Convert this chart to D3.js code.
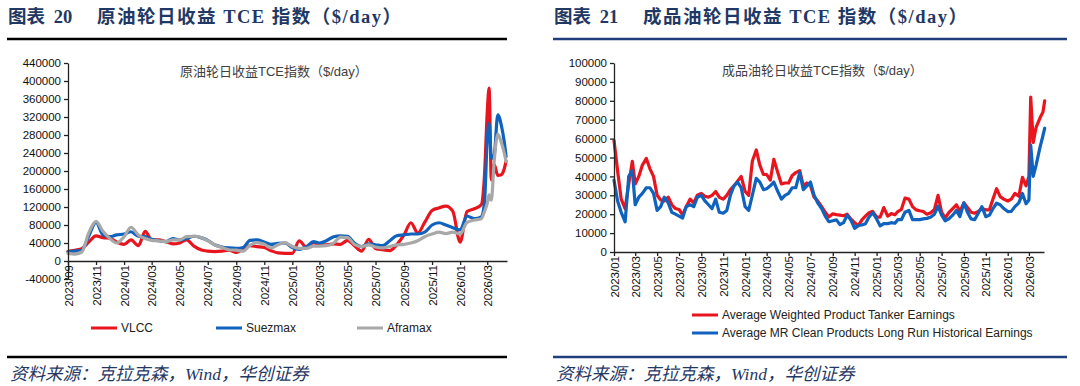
<!DOCTYPE html>
<html>
<head>
<meta charset="utf-8">
<script src="https://cdn.jsdelivr.net/npm/d3@7"></script>
<style>
  body { margin: 0; background: #fff; }
  svg { display: block; font-family: "Liberation Sans", Arial, "Noto Sans CJK SC", sans-serif; }
  .axis text { font-size: 11.5px; fill: #111; font-family: "Liberation Sans", Arial, sans-serif; }
  .axis path, .axis line { stroke: #222; stroke-width: 1.3; }
</style>
</head>
<body>
<svg id="chart" width="1080" height="386"></svg>
<script>
// ---- 图表20 原油轮 (semi-monthly reads, denser around the 2026/03 spike)
const crudeDates = [
  "2023-09-01","2023-09-16","2023-10-01","2023-10-16","2023-11-01","2023-11-16","2023-12-01","2023-12-16",
  "2024-01-01","2024-01-16","2024-02-01","2024-02-16","2024-03-01","2024-03-16","2024-04-01","2024-04-16",
  "2024-05-01","2024-05-16","2024-06-01","2024-06-16","2024-07-01","2024-07-16","2024-08-01","2024-08-16",
  "2024-09-01","2024-09-16","2024-10-01","2024-10-16","2024-11-01","2024-11-16","2024-12-01","2024-12-16",
  "2025-01-01","2025-01-16","2025-02-01","2025-02-16","2025-03-01","2025-03-16","2025-04-01","2025-04-16",
  "2025-05-01","2025-05-16","2025-06-01","2025-06-16","2025-07-01","2025-07-16","2025-08-01","2025-08-16",
  "2025-09-01","2025-09-16","2025-10-01","2025-10-16","2025-11-01","2025-11-16","2025-12-01","2025-12-16",
  "2026-01-01","2026-01-16","2026-02-01","2026-02-16",
  "2026-02-23","2026-03-01","2026-03-05","2026-03-10","2026-03-16","2026-03-24","2026-04-01","2026-04-07","2026-04-11"
];
const vlcc = [
  21000,24000,27000,42000,56000,52000,51000,42000,
  37000,47000,34000,66000,47000,47000,43000,38000,40000,47000,33000,25000,22000,21000,22000,24000,19000,27000,34000,32000,30000,23000,18000,17000,
  17000,45000,30000,41000,36000,36000,38000,37000,46000,34000,22000,48000,28000,25000,23000,36000,58000,85000,62000,86000,112000,118000,122000,111000,
  42000,110000,116000,125000,
  190000,330000,384000,180000,215000,190000,192000,205000,222000
];
const suezmax = [
  21000,22000,24000,55000,86000,58000,54000,58000,
  60000,65000,55000,54000,48000,45000,43000,50000,47000,50000,55000,52000,46000,36000,31000,29000,28000,30000,46000,47000,42000,37000,39000,40000,
  30000,26000,32000,43000,40000,45000,54000,56000,55000,40000,32000,38000,36000,34000,45000,56000,58000,60000,60000,64000,80000,85000,80000,74000,
  69000,100000,94000,98000,
  130000,270000,306000,228000,235000,325000,300000,265000,232000
];
const aframax = [
  17000,15500,20000,62000,88000,66000,50000,40000,
  54000,75000,58000,50000,46000,45000,43000,47000,47000,54000,55000,52000,45000,36000,30000,25000,24000,22000,35000,41000,37000,29000,36000,41000,
  32000,28000,28000,33000,33000,34000,40000,53000,52000,37000,32000,36000,31000,29000,32000,36000,37000,40000,45000,54000,60000,64000,61000,64000,
  60000,86000,91000,94000,
  110000,128000,147000,135000,220000,282000,262000,240000,221000
];
const crudeYTicks = [-40000,0,40000,80000,120000,160000,200000,240000,280000,320000,360000,400000,440000];
const crudeXTicks = ["2023-09-01","2023-11-01","2024-01-01","2024-03-01","2024-05-01","2024-07-01","2024-09-01","2024-11-01",
  "2025-01-01","2025-03-01","2025-05-01","2025-07-01","2025-09-01","2025-11-01","2026-01-01","2026-03-01"];
const crudeSeries = ["VLCC","Suezmax","Aframax"];

// ---- 图表21 成品油轮 (reads on the 1st, 11th, 21st)
const productDates = [
  "2023-01-01","2023-01-11","2023-01-21","2023-02-01","2023-02-11","2023-02-21","2023-03-01","2023-03-11","2023-03-21",
  "2023-04-01","2023-04-11","2023-04-21","2023-05-01","2023-05-11","2023-05-21","2023-06-01","2023-06-11","2023-06-21",
  "2023-07-01","2023-07-11","2023-07-21","2023-08-01","2023-08-11","2023-08-21","2023-09-01","2023-09-11","2023-09-21",
  "2023-10-01","2023-10-11","2023-10-21","2023-11-01","2023-11-11","2023-11-21","2023-12-01","2023-12-11","2023-12-21",
  "2024-01-01","2024-01-11","2024-01-21","2024-02-01","2024-02-11","2024-02-21","2024-03-01","2024-03-11","2024-03-21",
  "2024-04-01","2024-04-11","2024-04-21","2024-05-01","2024-05-11","2024-05-21","2024-06-01","2024-06-11","2024-06-21",
  "2024-07-01","2024-07-11","2024-07-21","2024-08-01","2024-08-11","2024-08-21","2024-09-01","2024-09-11","2024-09-21",
  "2024-10-01","2024-10-11","2024-10-21","2024-11-01","2024-11-11","2024-11-21","2024-12-01","2024-12-11","2024-12-21",
  "2025-01-01","2025-01-11","2025-01-21","2025-02-01","2025-02-11","2025-02-21","2025-03-01","2025-03-11","2025-03-21",
  "2025-04-01","2025-04-11","2025-04-21","2025-05-01","2025-05-11","2025-05-21","2025-06-01","2025-06-11","2025-06-21",
  "2025-07-01","2025-07-11","2025-07-21","2025-08-01","2025-08-11","2025-08-21","2025-09-01","2025-09-11","2025-09-21",
  "2025-10-01","2025-10-11","2025-10-21","2025-11-01","2025-11-11","2025-11-21","2025-12-01","2025-12-11","2025-12-21",
  "2026-01-01","2026-01-11","2026-01-21","2026-02-01","2026-02-11","2026-02-21",
  "2026-03-01","2026-03-06","2026-03-13","2026-03-21","2026-04-01","2026-04-09","2026-04-14"
];
const weightedProduct = [
  59000,43000,28000,23000,36000,48000,36000,40000,46000,49500,44000,40000,30000,27500,27000,29000,25000,23000,
  22500,19500,24000,28000,26000,30000,31000,29500,29000,30000,32000,29000,28000,30000,33000,35000,37500,40000,
  32000,30000,48000,54000,46000,41000,41000,38000,49000,42000,36000,36500,36500,40500,42000,43000,35000,36500,
  35000,29000,27000,24000,21000,18500,20200,19800,19500,19200,20000,17500,15500,13800,17000,19000,20800,21500,
  18500,18500,23500,19000,20300,19700,21400,22500,28500,28000,24000,22300,21800,21400,20000,20800,22500,30000,
  21000,18000,20800,23000,25000,21500,26000,23500,21000,20500,21400,23000,22300,22300,28000,33500,29300,28000,
  27000,28000,31000,29500,39500,35000,
  40000,82000,58000,66000,71000,74000,80000
];
const mrClean = [
  38000,27000,21000,16000,40000,43000,25000,29000,31000,34000,34000,31000,22000,24000,29000,26000,21000,20000,
  19000,18000,24000,25000,24000,29000,30000,27000,25000,23000,28000,21000,20500,22000,30000,35000,37000,34000,
  24000,22000,30000,39000,37000,33000,33500,35000,37000,32000,28000,30000,31000,34000,34000,42000,33000,35000,
  37000,30000,26000,23000,19000,16000,16500,17000,14500,15500,19500,17000,12500,14000,14300,15000,18500,20800,
  17500,13800,15000,15000,15500,15200,17100,17100,21000,22000,17100,17100,17100,17500,17800,18500,20000,24200,
  19500,16500,17500,19500,22000,18700,26000,21000,17500,17100,20500,24000,18700,19500,23000,25800,25000,23000,
  21400,21500,24000,26000,31000,25500,
  27500,56600,40000,46000,55500,61500,65500
];
const productYTicks = [0,10000,20000,30000,40000,50000,60000,70000,80000,90000,100000];
const productXTicks = ["2023-01-01","2023-03-01","2023-05-01","2023-07-01","2023-09-01","2023-11-01","2024-01-01","2024-03-01",
  "2024-05-01","2024-07-01","2024-09-01","2024-11-01","2025-01-01","2025-03-01","2025-05-01","2025-07-01","2025-09-01",
  "2025-11-01","2026-01-01","2026-03-01"];
const productSeries = ["Average Weighted Product Tanker Earnings","Average MR Clean Products Long Run Historical Earnings"];

const RED = "#e8141e", BLUE = "#0f62bd", GREY = "#a8a8a8", NAVY = "#1f3864";
const parse = d3.timeParse("%Y-%m-%d");
const svg = d3.select("#chart");

// ---- Frame: title, rules, source
function drawFrame(x0, x1, ruleColor, num, title) {
    const t = svg.append("text")
        .attr("y", 23)
        .attr("fill", NAVY)
        .style("font-family", '"Liberation Serif", "Noto Sans CJK SC", serif')
        .style("font-weight", "bold")
        .style("font-size", "18.5px");
    t.append("tspan").attr("x", x0 + 1).style("word-spacing", "4px").text("图表 " + num);
    t.append("tspan").attr("x", x0 + 90).style("letter-spacing", "1.5px").text(title);

    svg.append("line").attr("x1", x0).attr("x2", x1).attr("y1", 39).attr("y2", 39)
        .attr("stroke", ruleColor).attr("stroke-width", 2.5);
    svg.append("line").attr("x1", x0).attr("x2", x1).attr("y1", 357).attr("y2", 357)
        .attr("stroke", ruleColor).attr("stroke-width", 2.5);

    svg.append("text")
        .attr("x", x0 + 3).attr("y", 380)
        .attr("fill", NAVY)
        .style("font-family", '"Liberation Serif", "Noto Sans CJK SC", serif')
        .style("font-style", "italic")
        .style("font-size", "17.5px")
        .text("资料来源：克拉克森，Wind，华创证券");
}

// ---- Axes
function drawAxes(x, y, yTicks, xTicks, xAxisY) {
    svg.append("g")
        .attr("class", "axis")
        .attr("transform", `translate(${x.range()[0]},0)`)
        .call(d3.axisLeft(y).tickValues(yTicks).tickFormat(d => String(d))
            .tickSize(4).tickSizeOuter(0).tickPadding(3));

    const gx = svg.append("g")
        .attr("class", "axis")
        .attr("transform", `translate(0,${xAxisY})`)
        .call(d3.axisBottom(x).tickValues(xTicks.map(parse))
            .tickFormat(d3.timeFormat("%Y/%m")).tickSize(4).tickSizeOuter(0));
    gx.selectAll(".tick text")
        .attr("transform", "rotate(-90)")
        .attr("text-anchor", "end")
        .attr("x", -4)
        .attr("y", 0)
        .attr("dy", "0.36em");
}

function drawSeries(x, y, dates, values, color, curve) {
    const pts = dates.map((d, i) => ({ date: parse(d), value: values[i] }));
    svg.append("path")
        .datum(pts)
        .attr("fill", "none")
        .attr("stroke", color)
        .attr("stroke-width", 3.2)
        .attr("stroke-linejoin", "round")
        .attr("stroke-linecap", "round")
        .attr("d", d3.line().x(p => x(p.date)).y(p => y(p.value)).curve(curve));
}

function legendItem(lx, ly, color, label) {
    svg.append("line").attr("x1", lx).attr("x2", lx + 26).attr("y1", ly).attr("y2", ly)
        .attr("stroke", color).attr("stroke-width", 3);
    svg.append("text").attr("x", lx + 30).attr("y", ly + 4)
        .attr("fill", "#222").style("font-size", "12px").text(label);
}

// ---- 左图
drawFrame(7, 507, "#000", "20", "原油轮日收益 TCE 指数（$/day）");

const xL = d3.scaleTime().domain([parse("2023-09-01"), parse("2026-04-13")]).range([68, 507]);
const yL = d3.scaleLinear().domain([-40000, 440000]).range([279, 63]);

svg.append("text").attr("x", 180).attr("y", 76).attr("fill", "#404040")
    .style("font-size", "13px").style("font-family", '"Liberation Sans", "Noto Sans CJK SC", sans-serif')
    .text("原油轮日收益TCE指数（$/day）");

drawSeries(xL, yL, crudeDates, vlcc, RED, d3.curveMonotoneX);
drawSeries(xL, yL, crudeDates, suezmax, BLUE, d3.curveMonotoneX);
drawSeries(xL, yL, crudeDates, aframax, GREY, d3.curveMonotoneX);
drawAxes(xL, yL, crudeYTicks, crudeXTicks, yL(0));

legendItem(91, 328, RED, crudeSeries[0]);
legendItem(216, 328, BLUE, crudeSeries[1]);
legendItem(357, 328, GREY, crudeSeries[2]);

// ---- 右图
drawFrame(553, 1067, "#203e7c", "21", "成品油轮日收益 TCE 指数（$/day）");

const xR = d3.scaleTime().domain([parse("2023-01-01"), parse("2026-04-12")]).range([614, 1044]);
const yR = d3.scaleLinear().domain([0, 100000]).range([252, 63]);

svg.append("text").attr("x", 722).attr("y", 75).attr("fill", "#404040")
    .style("font-size", "13px").style("font-family", '"Liberation Sans", "Noto Sans CJK SC", sans-serif')
    .text("成品油轮日收益TCE指数（$/day）");

drawSeries(xR, yR, productDates, weightedProduct, RED, d3.curveLinear);
drawSeries(xR, yR, productDates, mrClean, BLUE, d3.curveLinear);
drawAxes(xR, yR, productYTicks, productXTicks, yR(0));

legendItem(692, 315, RED, productSeries[0]);
legendItem(692, 333, BLUE, productSeries[1]);
</script>
</body>
</html>
